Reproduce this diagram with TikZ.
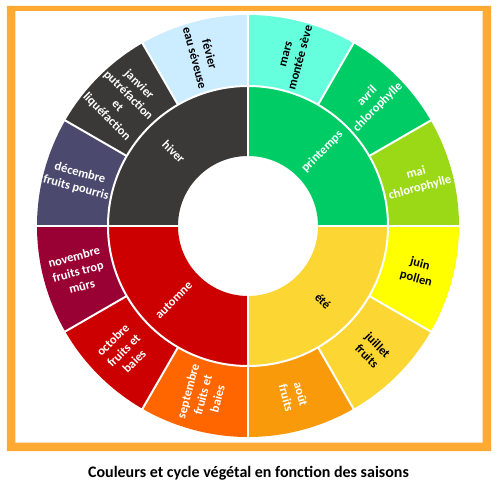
\documentclass[tikz,border=0pt]{standalone}
\usepackage{fontspec}
\setmainfont{Carlito}
\definecolor{frameor}{HTML}{FFAB33}
\definecolor{hiverc}{HTML}{3B3838}
\definecolor{decc}{HTML}{4B496E}
\definecolor{febc}{HTML}{CCECFF}
\definecolor{marc}{HTML}{66FFDD}
\definecolor{printc}{HTML}{00CC66}
\definecolor{maic}{HTML}{9BD917}
\definecolor{juinc}{HTML}{FFFF00}
\definecolor{etec}{HTML}{FCD733}
\definecolor{aouc}{HTML}{F99A0B}
\definecolor{sepc}{HTML}{FF6600}
\definecolor{autc}{HTML}{CC0000}
\definecolor{novc}{HTML}{990033}
\newcommand\annsec[5]{%
  \fill[#1] (#2:#4) arc[start angle=#2, end angle=#3, radius=#4] -- (#3:#5) arc[start angle=#3, end angle=#2, radius=#5] -- cycle;}
\begin{document}
\begin{tikzpicture}[x=1pt,y=1pt,
  sep/.style={draw=white, line width=2pt},
  lbl/.style={font=\bfseries\fontsize{12.5}{15.2}\selectfont, align=center, inner sep=0pt},
  wl/.style={lbl, text=white},
  bl/.style={lbl, text=black},
  capt/.style={font=\bfseries\fontsize{16}{19}\selectfont, anchor=base, inner sep=0pt}]
\useasboundingbox (-248,-261) rectangle (255,226);
\fill[white] (-248,-261) rectangle (255,226);
\fill[frameor, even odd rule] (-241,220) rectangle (243,-225) (-232.5,215) rectangle (234.7,-216.7);
% inner ring (seasons)
\annsec{printc}{0}{90}{70}{140}
\annsec{hiverc}{90}{180}{70}{140}
\annsec{autc}{180}{270}{70}{140}
\annsec{etec}{270}{360}{70}{140}
% outer ring (months)
\annsec{maic}{0}{30}{140}{211}
\annsec{printc}{30}{60}{140}{211}
\annsec{marc}{60}{90}{140}{211}
\annsec{febc}{90}{120}{140}{211}
\annsec{hiverc}{120}{150}{140}{211}
\annsec{decc}{150}{180}{140}{211}
\annsec{novc}{180}{210}{140}{211}
\annsec{autc}{210}{240}{140}{211}
\annsec{sepc}{240}{270}{140}{211}
\annsec{aouc}{270}{300}{140}{211}
\annsec{etec}{300}{330}{140}{211}
\annsec{juinc}{330}{360}{140}{211}
% separators
\draw[sep] (0,0) circle[radius=140];
\foreach \a in {0,90,180,270} \draw[sep] (\a:69) -- (\a:212);
\foreach \a in {30,60,120,150,210,240,300,330} \draw[sep] (\a:140) -- (\a:212);
% month labels
\node[bl, rotate=-75] (feb) at (105:176) {févier\\eau séveuse};
\node[wl, rotate=-45] (jan) at (135:177) {janvier\\putréfaction\\et\\liquéfaction};
\node[wl, rotate=-15] (dec) at (165:176) {décembre\\fruits pourris};
\node[wl, rotate=15] (nov) at (195:176) {novembre\\fruits trop\\mûrs};
\node[wl, rotate=45] (oct) at (225:176) {octobre\\fruits et\\baies};
\node[wl, rotate=75] (sept) at (255:175) {septembre\\fruits et\\baies};
\node[wl, rotate=-75] (aou) at (285:176) {août\\fruits};
\node[bl, rotate=-45] (jul) at (315:176) {juillet\\fruits};
\node[bl, rotate=-15] (jun) at (345:176) {juin\\pollen};
\node[wl, rotate=15] (mai) at (15:176) {mai\\chlorophylle};
\node[wl, rotate=45] (avr) at (45:176) {avril\\chlorophylle};
\node[bl, rotate=75] (mar) at (75:176) {mars\\montée sève};
% season labels
\node[wl, rotate=-45] (hiv) at (135:105) {hiver};
\node[wl, rotate=45] (pri) at (45:105) {printemps};
\node[bl, rotate=-45] (ete) at (315:106) {été};
\node[wl, rotate=45] (aut) at (225:105) {automne};
% caption
\node[capt] (cap) at (0.5,-251.5) {Couleurs et cycle végétal en fonction des saisons};
\end{tikzpicture}
\end{document}
